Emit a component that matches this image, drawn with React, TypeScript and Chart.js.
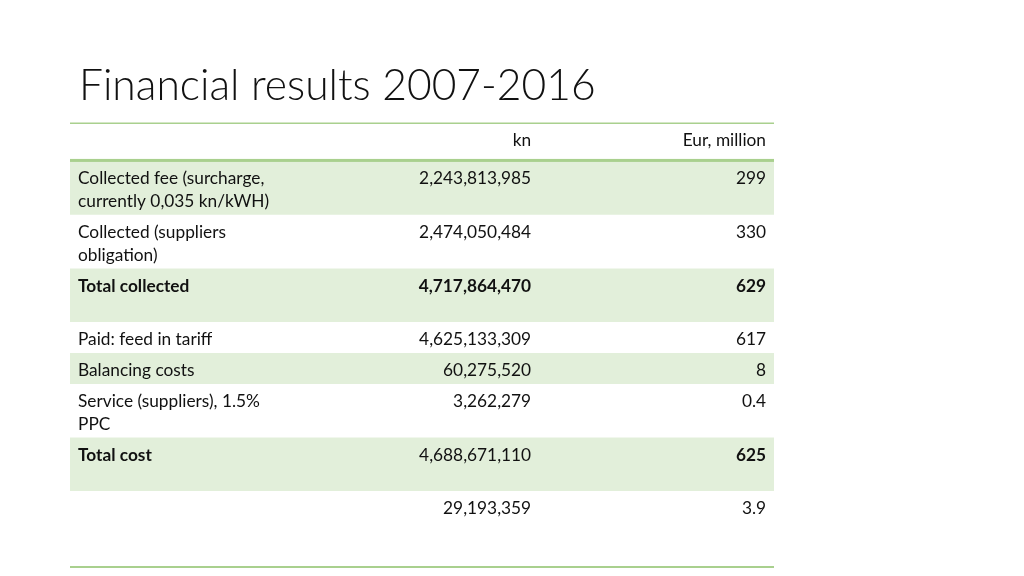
import React, { useEffect, useRef } from "react";
import { Chart, registerables } from "chart.js";

Chart.register(...registerables);

// ---- data ----
const TITLE = "Financial results 2007-2016";
const columnHeaders = ["", "kn", "Eur, million"];
const rowLabels = [
  "Collected fee (surcharge,\ncurrently 0,035 kn/kWH)",
  "Collected (suppliers\nobligation)",
  "Total collected",
  "Paid: feed in tariff",
  "Balancing costs",
  "Service (suppliers), 1.5%\nPPC",
  "Total cost",
  "",
];
const knValues = [2243813985, 2474050484, 4717864470, 4625133309, 60275520, 3262279, 4688671110, 29193359];
const eurValues = [299, 330, 629, 617, 8, 0.4, 625, 3.9];
const rowLines = [2, 2, 2, 1, 1, 2, 2, 3];

// ---- style ----
const FILL = "#E2EFDA";
const RULE = "#A9D08E";
const TEXT = "#111111";
const FONT = "Lato, 'Open Sans', sans-serif";
const FONT_SIZE = 17.3;
const LINE_H = 22.7;
const ROW_PAD = 8.3;
const HEADER_H = 38;
const boldCells: Record<number, boolean[]> = {
  2: [true, true, true],
  6: [true, false, true],
};

const rowHeight = (n: number) => ROW_PAD + LINE_H * n;
const totalUnits = HEADER_H + rowLines.reduce((s, n) => s + rowHeight(n), 0);

const fmtKn = (v: number) => v.toLocaleString("en-US");
const fmtEur = (v: number) => String(v);

const tablePlugin = {
  id: "tableText",
  afterDatasetsDraw(chart: any) {
    const { ctx, chartArea, scales } = chart;
    const y = scales.y;
    const left = chartArea.left;
    const right = chartArea.right;
    const col1Left = left + 8;
    const col2Right = left + (right - left) * 0.655;
    const col3Right = right - 8;
    ctx.save();

    // title
    ctx.fillStyle = TEXT;
    ctx.font = `300 42.6px ${FONT}`;
    ctx.textBaseline = "alphabetic";
    ctx.textAlign = "left";
    ctx.fillText(TITLE, left + 9, 100);

    // rules
    ctx.fillStyle = RULE;
    const yTop = y.getPixelForValue(0);
    const yHead = y.getPixelForValue(HEADER_H);
    const yBot = y.getPixelForValue(totalUnits);
    ctx.fillRect(left, yTop - 0.5, right - left, 1.5);
    ctx.fillRect(left, yHead - 2, right - left, 3);
    ctx.fillRect(left, yBot - 1, right - left, 2);

    // header text
    ctx.fillStyle = TEXT;
    ctx.font = `400 ${FONT_SIZE}px ${FONT}`;
    ctx.textAlign = "right";
    ctx.fillText(columnHeaders[1], col2Right, yTop + 22.5);
    ctx.fillText(columnHeaders[2], col3Right, yTop + 22.5);

    // rows
    rowLabels.forEach((label, i) => {
      const meta = chart.getDatasetMeta(i + 1);
      const el = meta.data[0];
      const top = Math.min(el.y, el.base);
      const bold = boldCells[i] || [false, false, false];
      const base = top + 23.5;
      ctx.textAlign = "left";
      ctx.font = `${bold[0] ? 700 : 400} ${FONT_SIZE}px ${FONT}`;
      label.split("\n").forEach((ln, k) => {
        if (ln) ctx.fillText(ln, col1Left, base + k * LINE_H);
      });
      ctx.textAlign = "right";
      ctx.font = `${bold[1] ? 700 : 400} ${FONT_SIZE}px ${FONT}`;
      ctx.fillText(fmtKn(knValues[i]), col2Right, base);
      ctx.font = `${bold[2] ? 700 : 400} ${FONT_SIZE}px ${FONT}`;
      ctx.fillText(fmtEur(eurValues[i]), col3Right, base);
    });
    ctx.restore();
  },
};

export default function App() {
  const ref = useRef<HTMLCanvasElement | null>(null);
  useEffect(() => {
    if (!ref.current) return;
    const datasets = [
      { label: "header", data: [HEADER_H], backgroundColor: "rgba(0,0,0,0)" },
      ...rowLabels.map((lab, i) => ({
        label: lab || "balance",
        data: [rowHeight(rowLines[i])],
        backgroundColor: i % 2 === 0 ? FILL : "#FFFFFF",
      })),
    ];
    const chart = new Chart(ref.current, {
      type: "bar",
      data: { labels: ["table"], datasets },
      options: {
        animation: false,
        responsive: false,
        maintainAspectRatio: false,
        layout: { padding: { left: 70, right: 250, top: 123, bottom: 9 } },
        datasets: { bar: { barPercentage: 1, categoryPercentage: 1, borderWidth: 0 } },
        scales: {
          x: { stacked: true, display: false },
          y: { stacked: true, display: false, reverse: true, min: 0, max: totalUnits },
        },
        plugins: { legend: { display: false }, tooltip: { enabled: false }, title: { display: false } },
      },
      plugins: [tablePlugin],
    });
    return () => chart.destroy();
  }, []);
  return (
    <div style={{ position: "absolute", left: 0, top: 0, width: 1024, height: 576, background: "#fff" }}>
      <canvas ref={ref} width={1024} height={576} style={{ display: "block" }} />
    </div>
  );
}
